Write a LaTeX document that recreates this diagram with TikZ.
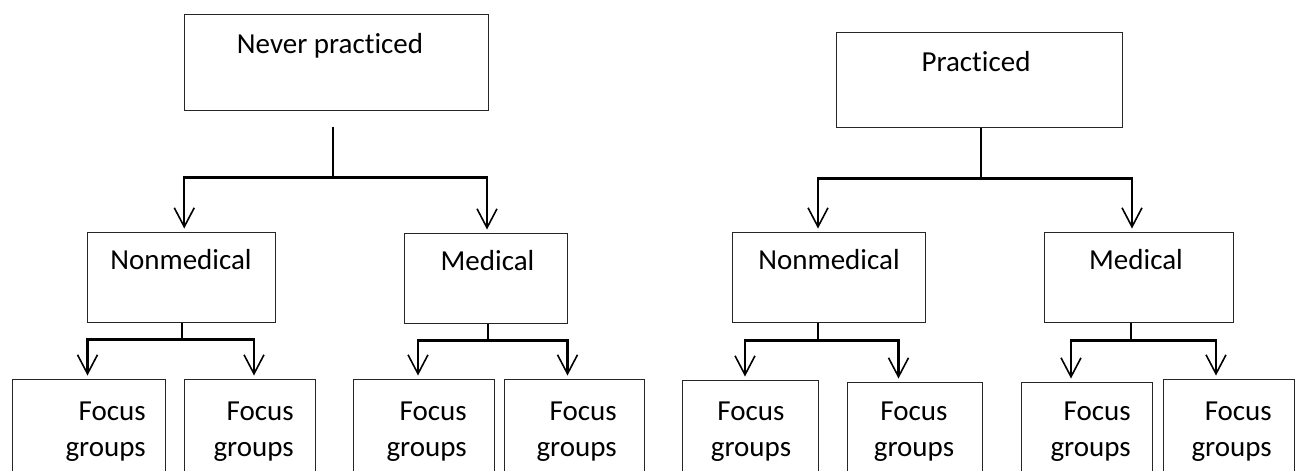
\documentclass[tikz,border=0pt]{standalone}
\usepackage{fontspec}
\setmainfont{Carlito}[Ligatures={NoCommon}]
\usetikzlibrary{arrows.meta}
\begin{document}
\begin{tikzpicture}[x=1pt,y=-1pt,
  box/.style={draw=black!85, line width=1pt, inner sep=0pt},
  lbl/.style={font=\fontsize{29}{37}\selectfont, inner sep=0pt, anchor=base},
  flbl/.style={font=\fontsize{29}{36}\selectfont, inner sep=0pt, text width=100pt},
  conn/.style={line width=2.4pt, black},
  arr/.style={-{Straight Barb[length=19pt,width=20pt,line width=1.6pt]}, shorten >=3pt}
]
\useasboundingbox (0,0) rectangle (1296,471);
\clip (0,0) rectangle (1296,471);
% top boxes
\node[box, minimum width=304pt, minimum height=96pt] (np) at (336,62) {};
\node[box, minimum width=286pt, minimum height=95pt] (p) at (979,79.5) {};
% middle boxes
\node[box, minimum width=187.5pt, minimum height=90pt] (nm1) at (181.25,277) {};
\node[box, minimum width=162.5pt, minimum height=90pt] (m1) at (486,278) {};
\node[box, minimum width=193pt, minimum height=90pt] (nm2) at (828.5,277) {};
\node[box, minimum width=189pt, minimum height=90pt] (m2) at (1138.5,277) {};
% bottom boxes
\node[box, minimum width=153pt, minimum height=121pt] (f1) at (88.5,439.5) {};
\node[box, minimum width=131pt, minimum height=121pt] (f2) at (249.5,439.5) {};
\node[box, minimum width=141pt, minimum height=121pt] (f3) at (423.5,439.5) {};
\node[box, minimum width=140pt, minimum height=121pt] (f4) at (574,439.5) {};
\node[box, minimum width=136pt, minimum height=120pt] (f5) at (750,440) {};
\node[box, minimum width=135pt, minimum height=118pt] (f6) at (915,441) {};
\node[box, minimum width=131pt, minimum height=118pt] (f7) at (1086.5,441) {};
\node[box, minimum width=131pt, minimum height=121pt] (f8) at (1228.5,439.5) {};
% labels
\node[lbl] (npt) at (330,53) {Never practiced};
\node[lbl] (pt) at (976,71) {Practiced};
\node[lbl] (nm1t) at (181,269) {Nonmedical};
\node[lbl] (m1t) at (487.5,270) {Medical};
\node[lbl] (nm2t) at (829,269) {Nonmedical};
\node[lbl] (m2t) at (1136,269) {Medical};
\node[flbl, align=right, anchor=base east] (f1t) at (146,420) {Focus\\groups};
\node[flbl, align=right, anchor=base east] (f2t) at (294,420) {Focus\\groups};
\node[flbl, align=right, anchor=base east] (f3t) at (467,420) {Focus\\groups};
\node[flbl, align=right, anchor=base east] (f4t) at (617,420) {Focus\\groups};
\node[flbl, align=center, anchor=base] (f5t) at (751,420) {Focus\\groups};
\node[flbl, align=center, anchor=base] (f6t) at (914,420) {Focus\\groups};
\node[flbl, align=right, anchor=base east] (f7t) at (1131,420) {Focus\\groups};
\node[flbl, align=right, anchor=base east] (f8t) at (1272,420) {Focus\\groups};
% level 1 connectors
\draw[conn] ([xshift=-3pt,yshift=-16pt]np.south) -- ++(0,51) coordinate (npj);
\draw[conn,arr] (npj) -| ([xshift=3pt]nm1.north);
\draw[conn,arr] (npj) -| ([xshift=1pt]m1.north);
\draw[conn] ([xshift=2pt]p.south) -- ++(0,51) coordinate (pj);
\draw[conn,arr] (pj) -| ([xshift=-10.5pt]nm2.north);
\draw[conn,arr] (pj) -| ([xshift=-6.5pt]m2.north);
% level 2 connectors
\draw[conn] ([xshift=1pt]nm1.south) -- ++(0,17) coordinate (nm1j);
\draw[conn,arr] (nm1j) -| ([xshift=-1pt]f1.north);
\draw[conn,arr] (nm1j) -| ([xshift=4.5pt]f2.north);
\draw[conn] ([xshift=2pt]m1.south) -- ++(0,17) coordinate (m1j);
\draw[conn,arr] (m1j) -| ([xshift=-5.5pt]f3.north);
\draw[conn,arr] (m1j) -| ([xshift=-6.5pt]f4.north);
\draw[conn] ([xshift=-10.5pt]nm2.south) -- ++(0,18) coordinate (nm2j);
\draw[conn,arr] (nm2j) -| ([xshift=-5pt]f5.north);
\draw[conn,arr] (nm2j) -| ([xshift=-16.5pt]f6.north);
\draw[conn] ([xshift=-7.5pt]m2.south) -- ++(0,18) coordinate (m2j);
\draw[conn,arr] (m2j) -| ([xshift=-15.5pt]f7.north);
\draw[conn,arr] (m2j) -| ([xshift=-12.5pt]f8.north);
\end{tikzpicture}
\end{document}
